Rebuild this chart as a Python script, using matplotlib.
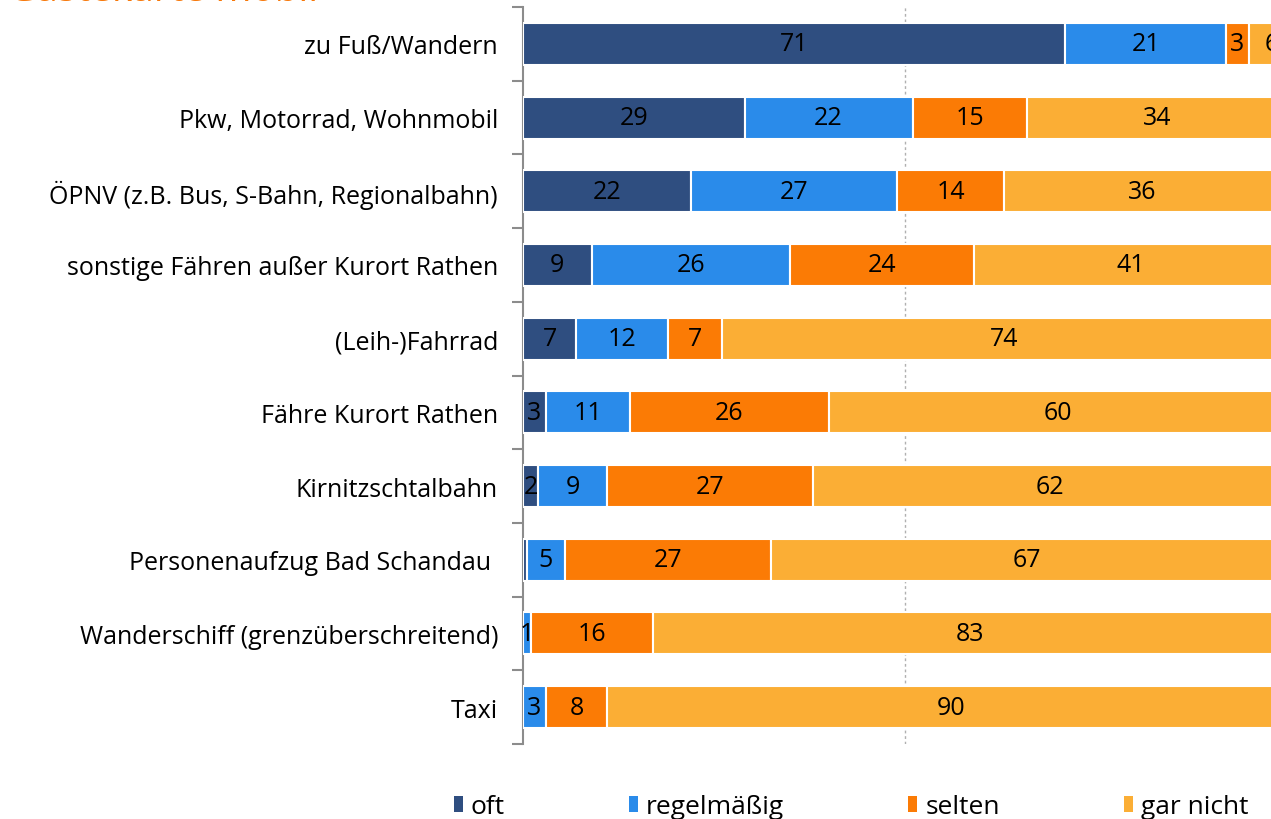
import matplotlib

matplotlib.use("Agg")
import matplotlib.pyplot as plt  # noqa: E402
from matplotlib.patches import Patch  # noqa: E402
import numpy as np  # noqa: E402

plt.rcParams["font.family"] = ["Open Sans", "DejaVu Sans"]

title = "Gästekarte mobil"

categories = [
    "zu Fuß/Wandern",
    "Pkw, Motorrad, Wohnmobil",
    "ÖPNV (z.B. Bus, S-Bahn, Regionalbahn)",
    "sonstige Fähren außer Kurort Rathen",
    "(Leih-)Fahrrad",
    "Fähre Kurort Rathen",
    "Kirnitzschtalbahn",
    "Personenaufzug Bad Schandau ",
    "Wanderschiff (grenzüberschreitend)",
    "Taxi",
]

series_names = ["oft", "regelmäßig", "selten", "gar nicht"]
oft = [71, 29, 22, 9, 7, 3, 2, 0.5, 0, 0]
regelmaessig = [21, 22, 27, 26, 12, 11, 9, 5, 1, 3]
selten = [3, 15, 14, 24, 7, 26, 27, 27, 16, 8]
gar_nicht = [6, 34, 36, 41, 74, 60, 62, 67, 83, 90]

colors = ["#2f4e80", "#2a8bea", "#fb7b05", "#fbae35"]

W, H = 1271, 820
fig = plt.figure(figsize=(W / 100, H / 100), dpi=100)
# the plot area runs past the right edge of the canvas
ax = fig.add_axes([523 / W, 1 - 745 / H, 764 / W, 737 / H])

y = np.arange(len(categories))
left = np.zeros(len(categories))
for name, vals, col in zip(series_names, [oft, regelmaessig, selten, gar_nicht], colors):
    vals = np.array(vals, dtype=float)
    ax.barh(y, vals, left=left, height=0.57, color=col, edgecolor="white",
            linewidth=1.5, zorder=3)
    for yi, l, v in zip(y, left, vals):
        if v >= 1:
            ax.text(l + v / 2, yi, f"{v:g}", ha="center", va="center",
                    fontsize=18, color="black", zorder=4)
    left += vals

ax.set_xlim(0, 100)
ax.set_ylim(len(categories) - 0.5, -0.5)
ax.axvline(50, color="#b0b0b0", linestyle=(0, (2, 2)), linewidth=1, zorder=1)

for side in ["top", "right", "bottom"]:
    ax.spines[side].set_visible(False)
ax.spines["left"].set_color("#8c8c8c")
ax.spines["left"].set_linewidth(1.5)
ax.set_xticks([])
ax.set_yticks(y)
ax.set_yticklabels(categories, fontsize=18)
ax.tick_params(axis="y", which="major", length=0, pad=18)
ax.set_yticks(np.arange(-0.5, len(categories), 1), minor=True)
ax.tick_params(axis="y", which="minor", length=8, width=1.5, color="#8c8c8c")

fig.text(8 / W, 1 - 1 / H, title, fontsize=28, color="#f7780a",
         ha="left", va="baseline")

handles = [Patch(facecolor=c, edgecolor="none") for c in colors]
fig.legend(handles, series_names, loc="lower left", ncol=4,
           bbox_to_anchor=(443 / W, -11 / H), frameon=False, fontsize=19,
           handlelength=0.35, handleheight=0.55, handletextpad=0.3,
           columnspacing=4.7, borderaxespad=0)

fig.savefig("out.png", dpi=100)
